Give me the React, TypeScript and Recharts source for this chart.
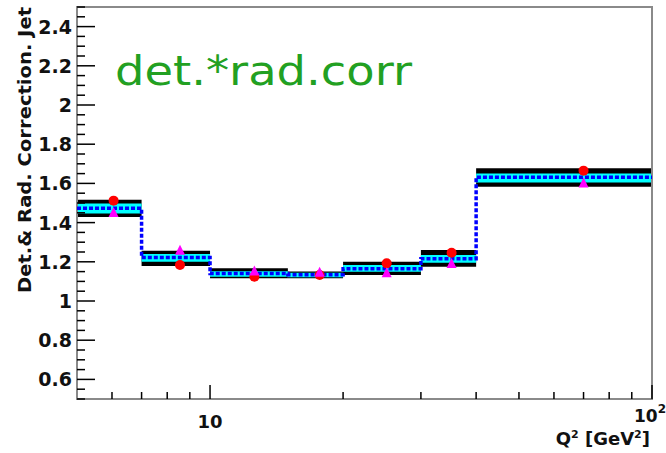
import React from "react";
import {
  ComposedChart,
  Line,
  Scatter,
  XAxis,
  YAxis,
  ReferenceArea,
} from "recharts";

// bin edges in Q^2 [GeV^2]
const binEdges = [5, 7, 10, 15, 20, 30, 40, 100];
// central correction per bin (blue dotted line)
const binCenter = [1.473, 1.222, 1.14, 1.134, 1.165, 1.216, 1.632];
// outer (black) band
const blackLo = [1.429, 1.179, 1.116, 1.116, 1.133, 1.175, 1.583];
const blackHi = [1.516, 1.257, 1.167, 1.15, 1.2, 1.26, 1.677];
// inner (cyan) band
const cyanLo = [1.447, 1.2, 1.124, 1.121, 1.149, 1.195, 1.604];
const cyanHi = [1.498, 1.24, 1.152, 1.144, 1.184, 1.235, 1.651];

// marker positions
const pointX = [6.05, 8.55, 12.6, 17.7, 25.1, 35.2, 70];
const redY = [1.512, 1.184, 1.124, 1.133, 1.192, 1.246, 1.665];
const magentaY = [1.449, 1.257, 1.15, 1.144, 1.141, 1.189, 1.6];

const xTicks = [6, 7, 8, 9, 10, 20, 30, 40, 50, 60, 70, 80, 90, 100];
const xMajor = [10, 100];
const yMajor = [0.6, 0.8, 1, 1.2, 1.4, 1.6, 1.8, 2, 2.2, 2.4];
const yTicks: number[] = [];
for (let i = 10; i <= 50; i++) yTicks.push(Math.round(i * 5) / 100);

const W = 666;
const H = 453;
const FONT = "'DejaVu Sans', sans-serif";

const stepData = binEdges.map((e, i) => ({
  x: e,
  y: binCenter[Math.min(i, binCenter.length - 1)],
}));
const redData = pointX.map((x, i) => ({ x, y: redY[i] }));
const magentaData = pointX.map((x, i) => ({ x, y: magentaY[i] }));

function XTick(props: any) {
  const { x, y, payload } = props;
  const v = payload.value;
  const major = xMajor.includes(v);
  return (
    <g>
      <line x1={x} x2={x} y1={y} y2={y - (major ? 14 : 7)} stroke="#000" strokeWidth={1.5} />
      {v === 10 && (
        <text x={x} y={y + 29} textAnchor="middle" fontFamily={FONT} fontWeight="bold" fontSize={18} fill="#111">
          10
        </text>
      )}
      {v === 100 && (
        <text x={x - 18} y={y + 23} textAnchor="start" fontFamily={FONT} fontWeight="bold" fontSize={17} fill="#111">
          10
          <tspan dy={-9} fontSize={12}>2</tspan>
        </text>
      )}
    </g>
  );
}

function YTick(props: any) {
  const { x, y, payload } = props;
  const v = payload.value;
  const major = yMajor.some((m) => Math.abs(m - v) < 1e-6);
  return (
    <g>
      <line x1={x} x2={x + (major ? 18 : 8)} y1={y} y2={y} stroke="#000" strokeWidth={1.5} />
      {major && (
        <text x={x - 5} y={y + 7} textAnchor="end" fontFamily={FONT} fontWeight="bold" fontSize={19} fill="#111">
          {v}
        </text>
      )}
    </g>
  );
}

function Triangle(props: any) {
  const { cx, cy } = props;
  return (
    <polygon
      points={`${cx},${cy - 6} ${cx - 5},${cy + 4} ${cx + 5},${cy + 4}`}
      fill="#ff00ff"
    />
  );
}

function Dot(props: any) {
  const { cx, cy } = props;
  return <circle cx={cx} cy={cy} r={5} fill="#ff0000" />;
}

export default function App() {
  return (
    <div style={{ position: "absolute", left: 0, top: 0, width: W, height: H, background: "#fff" }}>
      <ComposedChart
        width={W}
        height={H}
        margin={{ top: 7, right: 14, bottom: 0, left: 0 }}
      >
        <XAxis
          type="number"
          dataKey="x"
          scale="log"
          domain={[5, 100]}
          ticks={xTicks}
          allowDataOverflow
          axisLine={false}
          tickLine={false}
          tickSize={0}
          tickMargin={0}
          height={54}
          tick={<XTick />}
          interval={0}
        />
        <YAxis
          type="number"
          dataKey="y"
          domain={[0.5, 2.5]}
          ticks={yTicks}
          allowDataOverflow
          axisLine={false}
          tickLine={false}
          tickSize={0}
          tickMargin={0}
          width={77}
          tick={<YTick />}
          interval={0}
        />
        {binCenter.map((_, i) => (
          <ReferenceArea
            key={`b${i}`}
            x1={binEdges[i]}
            x2={binEdges[i + 1]}
            y1={blackLo[i]}
            y2={blackHi[i]}
            fill="#000"
            fillOpacity={1}
            stroke="none"
          />
        ))}
        {binCenter.map((_, i) => (
          <ReferenceArea
            key={`c${i}`}
            x1={binEdges[i]}
            x2={binEdges[i + 1]}
            y1={cyanLo[i]}
            y2={cyanHi[i]}
            fill="#00ffff"
            fillOpacity={1}
            stroke="none"
          />
        ))}
        <Line
          data={stepData}
          dataKey="y"
          type="stepAfter"
          stroke="#0000ff"
          strokeWidth={3.5}
          strokeDasharray="4 2"
          dot={false}
          isAnimationActive={false}
        />
        <Scatter data={redData} dataKey="y" shape={<Dot />} isAnimationActive={false} />
        <Scatter data={magentaData} dataKey="y" shape={<Triangle />} isAnimationActive={false} />
        <ReferenceArea
          x1={5}
          x2={100}
          y1={0.5}
          y2={2.5}
          fill="none"
          stroke="#8a8a8a"
          strokeWidth={2}
          ifOverflow="visible"
        />
      </ComposedChart>
      <svg
        width={W}
        height={H}
        style={{ position: "absolute", left: 0, top: 0, pointerEvents: "none" }}
      >
        <text
          x={115}
          y={85}
          fontFamily="'DejaVu Sans', sans-serif"
          fontSize={40}
          fill="#22a022"
          textLength={297}
          lengthAdjust="spacingAndGlyphs"
        >
          det.*rad.corr
        </text>
        <text
          transform="translate(31,7) rotate(-90)"
          textAnchor="end"
          fontFamily={FONT}
          fontWeight="bold"
          fontSize={17}
          fill="#111"
          textLength={286}
          lengthAdjust="spacingAndGlyphs"
        >
          {"Det.& Rad. Correction.  Jet"}
        </text>
        <text
          x={650}
          y={445}
          textAnchor="end"
          fontFamily={FONT}
          fontWeight="bold"
          fontSize={18}
          fill="#111"
        >
          Q<tspan dy={-7} fontSize={11}>2</tspan>
          <tspan dy={7}>{"  [GeV"}</tspan>
          <tspan dy={-7} fontSize={11}>2</tspan>
          <tspan dy={7}>]</tspan>
        </text>
      </svg>
    </div>
  );
}
